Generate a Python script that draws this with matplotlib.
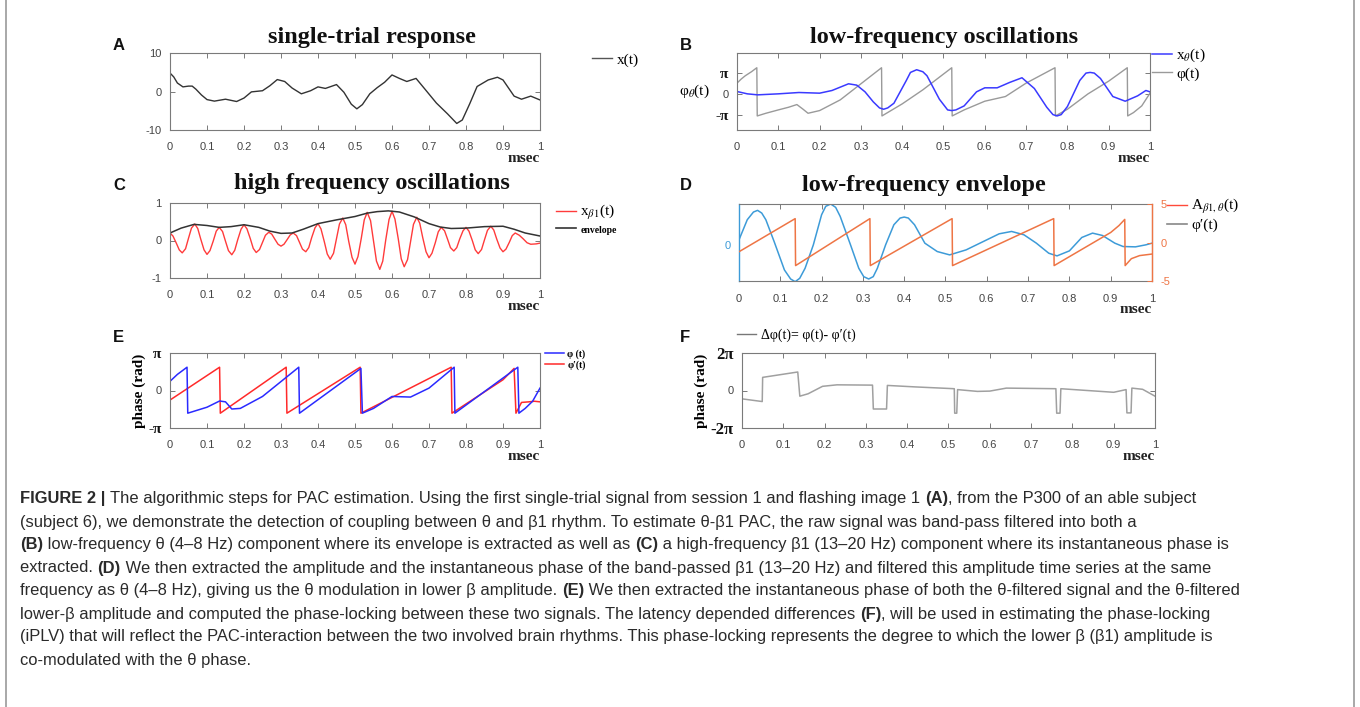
import matplotlib
matplotlib.use("Agg")
import matplotlib.pyplot as plt
from matplotlib.lines import Line2D
import numpy as np

# ---- data ----
xticks = [0, 0.1, 0.2, 0.3, 0.4, 0.5, 0.6, 0.7, 0.8, 0.9, 1.0]
xlabels = ['0', '0.1', '0.2', '0.3', '0.4', '0.5', '0.6', '0.7', '0.8', '0.9', '1']

# A: single-trial response
tA = [0, .01, .02, .035, .05, .06, .07, .085, .1, .12, .15, .17, .18, .2, .22, .25, .27, .29,
      .31, .33, .355, .38, .4, .42, .45, .47, .49, .505, .52, .54, .56, .58, .60, .62, .64,
      .665, .69, .72, .75, .775, .79, .81, .83, .86, .885, .9, .93, .95, .975, 1.0]
xA = [4.8, 3.8, 2.2, 1.2, 1.4, 1.4, 0.6, -0.9, -2.1, -2.5, -2.0, -2.4, -2.6, -1.7, -0.1, 0.2,
      1.5, 3.1, 2.6, 0.9, -0.6, 0.2, 1.2, 0.8, 1.8, -0.2, -3.3, -4.5, -3.4, -0.6, 1.0, 2.4,
      4.3, 3.4, 2.6, 3.4, 0.5, -3.0, -5.8, -8.3, -7.4, -3.2, 1.3, 3.0, 3.7, 3.0, -1.2, -2.0,
      -1.2, -2.2]

# B: theta band signal and its phase
tBx = [0, .025, .05, .1, .15, .2, .23, .25, .27, .29, .31, .33, .345, .355, .365, .38, .41,
       .42, .435, .45, .46, .49, .51, .52, .53, .55, .58, .6, .63, .66, .69, .72, .75, .765,
       .775, .785, .8, .83, .845, .855, .865, .88, .91, .94, .97, .99, 1.0]
xBx = [0.35, 0.0, -0.15, 0.0, 0.2, 0.1, 0.5, 1.0, 1.5, 1.3, 0.3, -1.2, -2.1, -2.3, -2.1, -1.4,
       2.0, 3.2, 3.6, 3.3, 2.7, -0.8, -2.4, -2.5, -2.4, -1.8, 0.3, 0.9, 0.9, 1.7, 2.4, 0.8,
       -2.0, -3.1, -3.3, -3.1, -1.9, 2.0, 3.1, 3.2, 3.1, 2.3, -0.4, -1.1, -0.3, 0.5, 0.3]
tBp = [0, .01, .02, .035, .048, .049, .07, .1, .125, .145, .16, .172, .2, .25, .3, .35, .351,
       .4, .45, .52, .521, .55, .6, .65, .7, .77, .771, .8, .85, .9, .945, .946, .96, .98, 1.0]
pBp = [1.6, 2.2, 2.7, 3.3, 3.9, -3.3, -2.9, -2.4, -2.0, -1.6, -2.3, -2.9, -2.5, -0.9, 1.5,
       3.9, -3.3, -1.5, 0.6, 3.9, -3.3, -2.4, -1.1, -0.4, 1.6, 3.9, -3.3, -2.3, 0.0, 1.9, 3.9,
       -3.3, -2.8, -1.8, 0.1]

# C: beta1 band signal and envelope
tC = [0, .008, .017, .025, .033, .042, .05, .058, .067, .075, .083, .092, .1, .108, .117,
      .125, .133, .142, .15, .158, .167, .175, .183, .192, .2, .208, .217, .225, .233, .242,
      .25, .258, .267, .275, .283, .292, .3, .308, .317, .325, .333, .342, .35, .358, .367,
      .375, .383, .392, .4, .408, .417, .425, .433, .442, .45, .458, .467, .475, .483, .492,
      .5, .508, .517, .525, .533, .542, .55, .558, .567, .575, .583, .592, .6, .608, .617,
      .625, .633, .642, .65, .658, .667, .675, .683, .692, .7, .708, .717, .725, .733, .742,
      .75, .758, .767, .775, .783, .792, .8, .808, .817, .825, .833, .842, .85, .858, .867,
      .875, .883, .892, .9, .908, .917, .925, .933, .944, .954, .965, .975, .99, 1.0]
xC = [0.20, 0.12, -0.07, -0.25, -0.33, -0.22, 0.06, 0.33, 0.44, 0.32, 0.04, -0.25, -0.37,
      -0.27, -0.01, 0.25, 0.35, 0.24, -0.02, -0.27, -0.38, -0.26, 0.02, 0.30, 0.42, 0.31,
      0.05, -0.21, -0.32, -0.24, -0.05, 0.14, 0.22, 0.17, 0.04, -0.10, -0.15, -0.10, 0.03,
      0.15, 0.20, 0.13, -0.05, -0.23, -0.30, -0.19, 0.08, 0.34, 0.45, 0.31, -0.03, -0.36,
      -0.50, -0.34, 0.05, 0.44, 0.60, 0.42, -0.02, -0.45, -0.63, -0.43, 0.06, 0.55, 0.75,
      0.53, -0.01, -0.55, -0.77, -0.55, 0.01, 0.56, 0.78, 0.57, 0.04, -0.49, -0.70, -0.51,
      -0.04, 0.43, 0.62, 0.46, 0.08, -0.30, -0.46, -0.34, -0.06, 0.23, 0.35, 0.26, 0.04,
      -0.19, -0.28, -0.19, 0.04, 0.26, 0.35, 0.25, 0.0, -0.25, -0.35, -0.24, 0.02, 0.27,
      0.38, 0.28, 0.04, -0.20, -0.30, -0.23, -0.05, 0.13, 0.20, 0.14, 0.05, -0.06, -0.10,
      -0.09, -0.07]
tEnv = [0, .03, .065, .1, .133, .165, .2, .24, .27, .3, .33, .36, .4, .45, .5, .533, .56, .59,
        .62, .66, .7, .73, .76, .8, .85, .9, .93, .96, 1.0]
env = [0.2, 0.33, 0.43, 0.4, 0.35, 0.37, 0.42, 0.35, 0.25, 0.19, 0.2, 0.3, 0.45, 0.55, 0.64,
       0.73, 0.77, 0.79, 0.76, 0.63, 0.45, 0.36, 0.32, 0.33, 0.37, 0.38, 0.3, 0.2, 0.12]

# D: low-frequency envelope (left axis) and its phase (right axis)
tDa = [0, .02, .035, .045, .055, .065, .085, .11, .125, .136, .147, .16, .18, .2, .21, .222,
       .234, .245, .27, .29, .302, .314, .325, .335, .355, .375, .39, .4, .41, .425, .45, .48,
       .51, .55, .6, .63, .66, .69, .72, .75, .77, .8, .83, .856, .88, .91, .93, .96, .985,
       1.0]
aD = [0.15, 0.75, 0.98, 1.03, 0.95, 0.75, 0.1, -0.75, -1.02, -1.1, -1.0, -0.7, 0.0, 0.9,
      1.15, 1.22, 1.12, 0.85, 0.0, -0.7, -0.95, -1.02, -0.95, -0.7, 0.0, 0.6, 0.8, 0.83, 0.8,
      0.6, 0.05, -0.2, -0.3, -0.15, 0.15, 0.33, 0.4, 0.3, 0.05, -0.25, -0.33, -0.18, 0.22,
      0.35, 0.28, 0.05, -0.05, -0.06, 0.0, 0.05]
tDp = [0, .136, .137, .317, .318, .516, .517, .762, .763, .9, .92, .934, .935, .95, .97, 1.0]
pDp = [-1.2, 3.1, -3.0, 3.1, -3.0, 3.1, -3.0, 3.1, -3.0, 1.3, 2.2, 3.0, -3.0, -2.1, -1.7, -1.5]

# E: phases of both signals
tEb = [0, .02, .046, .048, .1, .134, .15, .167, .19, .25, .348, .35, .516, .52, .55, .6, .65,
       .7, .768, .77, .94, .943, .96, .98, 1.0]
pEb = [0.77, 1.35, 1.95, -1.9, -1.4, -0.88, -0.95, -1.55, -1.5, -0.5, 1.95, -1.9, 1.85, -1.9,
       -1.5, -0.5, -0.55, 0.2, 1.95, -1.9, 1.95, -1.9, -1.5, -0.9, 0.2]
tEr = [0, .134, .136, .314, .316, .514, .516, .76, .762, .9, .93, .935, .95, .97, .985, 1.0]
pEr = [-0.8, 1.95, -1.9, 1.95, -1.9, 1.95, -1.9, 1.95, -1.9, 0.9, 1.85, -1.9, -1.0, -0.95,
       -0.9, -0.95]

# F: phase difference
tF = [0, .049, .05, .135, .14, .16, .195, .23, .316, .318, .35, .352, .42, .514, .515, .52,
      .522, .57, .6, .64, .76, .762, .77, .772, .9, .93, .932, .942, .944, .97, 1.0]
dF = [-1.4, -1.85, 2.2, 3.1, -0.95, -0.55, 0.7, 0.95, 0.9, -3.1, -3.1, 0.85, 0.6, 0.3, -3.8,
      -3.8, 0.15, -0.15, -0.1, 0.4, 0.3, -3.8, -3.8, 0.3, -0.3, 0.15, -3.75, -3.75, 0.4, 0.2,
      -0.95]

caption = [
    [("FIGURE 2 | ", True), ("The algorithmic steps for PAC estimation. Using the first single-trial signal from session 1 and flashing image 1 ", False), ("(A)", True), (", from the P300 of an able subject", False)],
    [("(subject 6), we demonstrate the detection of coupling between θ and β1 rhythm. To estimate θ-β1 PAC, the raw signal was band-pass filtered into both a", False)],
    [("(B)", True), (" low-frequency θ (4–8 Hz) component where its envelope is extracted as well as ", False), ("(C)", True), (" a high-frequency β1 (13–20 Hz) component where its instantaneous phase is", False)],
    [("extracted. ", False), ("(D)", True), (" We then extracted the amplitude and the instantaneous phase of the band-passed β1 (13–20 Hz) and filtered this amplitude time series at the same", False)],
    [("frequency as θ (4–8 Hz), giving us the θ modulation in lower β amplitude. ", False), ("(E)", True), (" We then extracted the instantaneous phase of both the θ-filtered signal and the θ-filtered", False)],
    [("lower-β amplitude and computed the phase-locking between these two signals. The latency depended differences ", False), ("(F)", True), (", will be used in estimating the phase-locking", False)],
    [("(iPLV) that will reflect the PAC-interaction between the two involved brain rhythms. This phase-locking represents the degree to which the lower β (β1) amplitude is", False)],
    [("co-modulated with the θ phase.", False)],
]

# ---- drawing ----
W, H = 1360, 707
plt.rcParams['font.family'] = ['Liberation Sans', 'DejaVu Sans']
plt.rcParams['mathtext.fontset'] = 'stix'
plt.rcParams['axes.unicode_minus'] = False
SERIF = ['Liberation Serif', 'DejaVu Serif']
SANS = ['Liberation Sans', 'DejaVu Sans']
GRAY = '#7a7a7a'

fig = plt.figure(figsize=(W / 100, H / 100), dpi=100)


def place(x0, y0, x1, y1):
    return fig.add_axes([x0 / W, 1 - y1 / H, (x1 - x0) / W, (y1 - y0) / H])


def style(ax, mirror=True):
    for s in ax.spines.values():
        s.set_color(GRAY)
        s.set_linewidth(0.8)
    ax.tick_params(direction='in', top=True, right=mirror, length=3.5, width=0.7,
                   colors=GRAY, labelcolor='#444444', labelsize=8, pad=6)
    ax.tick_params(axis='x', pad=9)
    ax.set_xlim(0, 1)
    ax.set_xticks(xticks)
    ax.set_xticklabels(xlabels, family=SANS)
    h = ax.get_position().height * H
    ax.text(1, -28 / h, 'msec', transform=ax.transAxes, ha='right', va='center',
            family=SERIF, weight='bold', fontsize=11, color='#222222')


def figtext(x, y, s, **kw):
    return fig.text(x / W, 1 - y / H, s, **kw)


def legend(ax, handles, labels, x, y, size=11, **kw):
    opts = dict(loc='upper left', bbox_to_anchor=(x / W, 1 - y / H),
                bbox_transform=fig.transFigure, frameon=False,
                prop=dict(family=SERIF, size=size), handlelength=1.3,
                handletextpad=0.3, borderaxespad=0, borderpad=0, labelspacing=0.15)
    opts.update(kw)
    return ax.legend(handles, labels, **opts)


def pi_labels(ax, ticks, labels, size=11):
    ax.set_yticks(ticks)
    ax.set_yticklabels(labels)
    for lab in ax.get_yticklabels():
        if lab.get_text() == '0':
            lab.set_fontfamily(SANS)
            lab.set_fontsize(8)
        else:
            lab.set_fontfamily(SERIF)
            lab.set_fontweight('bold')
            lab.set_fontsize(size)
            lab.set_color('#111111')


title_kw = dict(family=SERIF, weight='bold', fontsize=17.5, ha='center', va='center',
                color='#111111')
letter_kw = dict(family=SANS, weight='bold', fontsize=12, ha='left', va='center',
                 color='#111111')

# A
axA = place(170, 53, 540, 130)
axA.plot(tA, xA, color='#333333', lw=1.0)
axA.set_ylim(-10, 10)
axA.set_yticks([-10, 0, 10])
style(axA)
figtext(113, 45, 'A', **letter_kw)
figtext(372, 37, 'single-trial response', **title_kw)
legend(axA, [Line2D([], [], color='#555555', lw=1)], ['x(t)'], 592, 53)

# B
axB = place(737, 53, 1150, 130)
axB.plot(tBp, pBp, color='#9a9a9a', lw=1.0)
axB.plot(tBx, xBx, color='#3a3aff', lw=1.1)
axB.set_ylim(-5.4, 6.1)
style(axB)
pi_labels(axB, [-np.pi, 0, np.pi], ['-π', '0', 'π'])
axB.set_ylabel('φ$_\\theta$(t)', family=SERIF, fontsize=11, rotation=0,
               ha='right', va='center', labelpad=4)
figtext(680, 45, 'B', **letter_kw)
figtext(944, 37, 'low-frequency oscillations', **title_kw)
legend(axB, [Line2D([], [], color='#3a3aff', lw=1.1), Line2D([], [], color='#9a9a9a', lw=1)],
       ['x$_\\theta$(t)', 'φ(t)'], 1152, 47)

# C
axC = place(170, 203, 540, 278)
axC.plot(tC, xC, color='#ff3b3b', lw=1.0)
axC.plot(tEnv, env, color='#333333', lw=1.1)
axC.set_ylim(-1, 1)
axC.set_yticks([-1, 0, 1])
style(axC)
figtext(113, 185, 'C', **letter_kw)
figtext(372, 184, 'high frequency oscillations', **title_kw)
legC = legend(axC, [Line2D([], [], color='#ff3b3b', lw=1), Line2D([], [], color='#333333', lw=1.2)],
              ['x$_{\\beta\\mathrm{1}}$(t)', 'envelope'], 556, 203, labelspacing=0.05)
legC.get_texts()[1].set_fontsize(7)
legC.get_texts()[1].set_fontweight('bold')

# D
BLUE_D = '#3d9bd8'
ORANGE_D = '#ee7545'
axD = place(739, 204, 1152, 281)
axD.plot(tDa, aD, color=BLUE_D, lw=1.1)
axD.set_ylim(-1.08, 1.22)
style(axD, mirror=False)
axD.set_yticks([0])
axD.tick_params(axis='y', length=0, labelcolor=BLUE_D)
axD.spines['left'].set_color(BLUE_D)
axD.spines['left'].set_linewidth(1.0)
axD2 = axD.twinx()
axD2.plot(tDp, pDp, color=ORANGE_D, lw=1.1)
axD2.set_ylim(-5, 5)
axD2.set_yticks([-5, 0, 5])
axD2.set_xlim(0, 1)
for s in ['top', 'bottom', 'left']:
    axD2.spines[s].set_visible(False)
axD2.spines['right'].set_color(ORANGE_D)
axD2.spines['right'].set_linewidth(1.0)
axD2.tick_params(axis='y', direction='in', length=3.5, width=0.7, colors=ORANGE_D,
                 labelsize=8, pad=6)
figtext(680, 185, 'D', **letter_kw)
figtext(924, 186, 'low-frequency envelope', **title_kw)
legend(axD2, [Line2D([], [], color='#ff4a3a', lw=1), Line2D([], [], color='#888888', lw=1.2)],
       ['A$_{\\beta\\mathrm{1},\\theta}$(t)', 'φ′(t)'], 1167, 197)

# E
axE = place(170, 353, 540, 428)
axE.plot(tEr, pEr, color='#ff2a2a', lw=1.1)
axE.plot(tEb, pEb, color='#2a2aff', lw=1.1)
axE.set_ylim(-np.pi, np.pi)
style(axE)
pi_labels(axE, [-np.pi, 0, np.pi], ['-π', '0', 'π'])
axE.set_ylabel('phase (rad)', family=SERIF, weight='bold', fontsize=11, labelpad=2)
figtext(113, 337, 'E', **letter_kw)
legend(axE, [Line2D([], [], color='#2a2aff', lw=1.1), Line2D([], [], color='#ff2a2a', lw=1.1)],
       ['φ (t)', 'φ′(t)'], 545, 349, size=7, handlelength=2.0,
       prop=dict(family=SERIF, size=7, weight='bold'))

# F
axF = place(742, 353, 1155, 428)
axF.plot(tF, dF, color='#a0a0a0', lw=1.1)
axF.set_ylim(-2 * np.pi, 2 * np.pi)
style(axF)
pi_labels(axF, [-2 * np.pi, 0, 2 * np.pi], ['-2π', '0', '2π'], size=12)
axF.set_ylabel('phase (rad)', family=SERIF, weight='bold', fontsize=11, labelpad=2)
figtext(680, 337, 'F', **letter_kw)
legend(axF, [Line2D([], [], color='#777777', lw=1)], ['Δφ(t)= φ(t)- φ′(t)'], 737, 329,
       size=10, handlelength=1.4)

# frame edges
fig.add_artist(Line2D([6 / W, 6 / W], [0, 1], color='#9a9a9a', lw=1.2))
fig.add_artist(Line2D([1354 / W, 1354 / W], [0, 1], color='#9a9a9a', lw=1.2))

# caption, mixed bold / regular segments placed one after another
renderer = fig.canvas.get_renderer()
cap_size = 11.9


def seg_width(s, bold):
    wt = 'bold' if bold else 'normal'
    probe = fig.text(0, 0, s + '|', fontsize=cap_size, family=SANS, weight=wt)
    bar = fig.text(0, 0, '|', fontsize=cap_size, family=SANS, weight=wt)
    w = probe.get_window_extent(renderer).width - bar.get_window_extent(renderer).width
    probe.remove()
    bar.remove()
    return w


y = 499
for line in caption:
    x = 20
    for s, bold in line:
        figtext(x, y, s, fontsize=cap_size, family=SANS, weight='bold' if bold else 'normal',
                va='center', ha='left', color='#2a2a2a')
        x += seg_width(s, bold)
    y += 23

fig.savefig('out.png', dpi=100)
